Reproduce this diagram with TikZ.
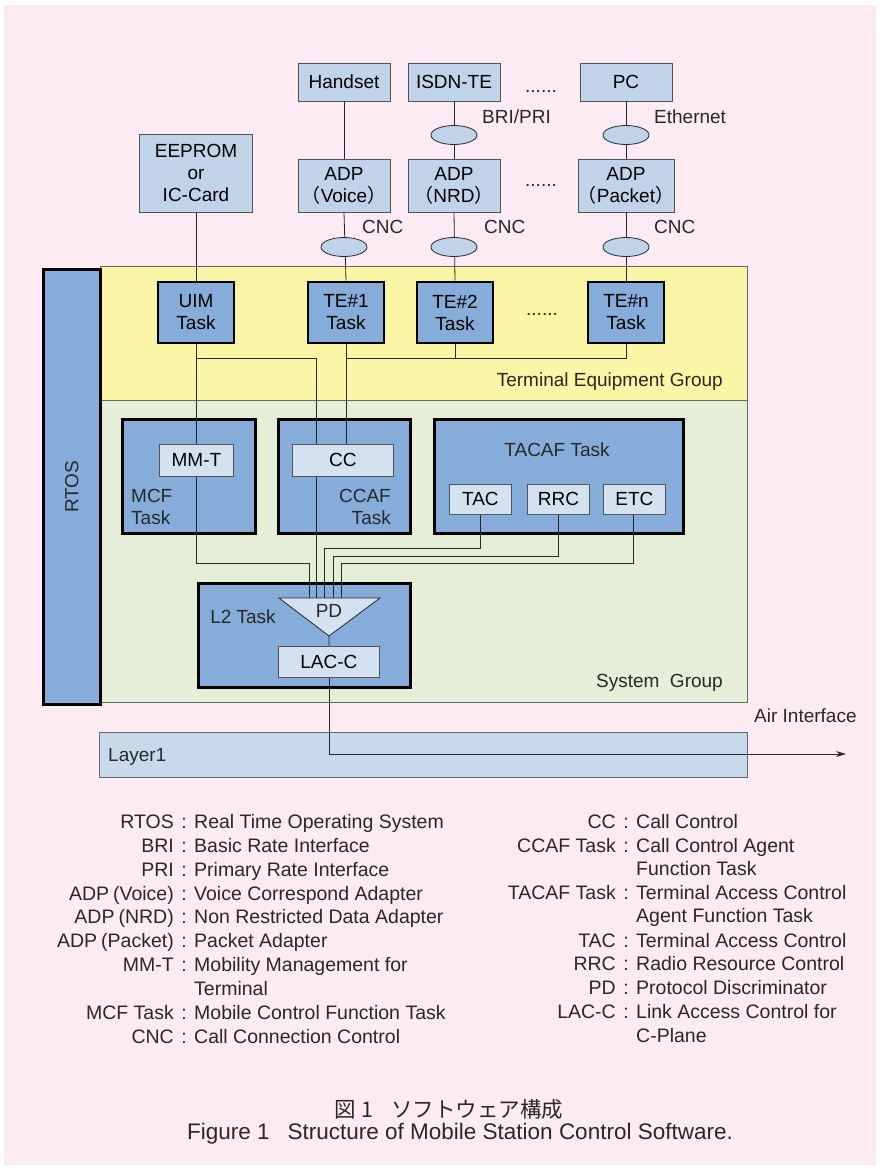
\documentclass[tikz,border=0pt]{standalone}
\usepackage{fontspec}
\setmainfont{Liberation Sans}
\newfontfamily\cjk{Noto Sans CJK JP}
\usetikzlibrary{shapes.geometric,arrows.meta}
\definecolor{bgpink}{RGB}{252,235,243}
\definecolor{topblue}{RGB}{192,211,232}
\definecolor{taskblue}{RGB}{134,172,218}
\definecolor{inblue}{RGB}{212,225,240}
\definecolor{yband}{RGB}{251,246,166}
\definecolor{gband}{RGB}{229,239,215}
\definecolor{lone}{RGB}{199,218,236}
\definecolor{ink}{RGB}{40,40,40}
\newcommand\fpo{{\cjk （}}
\newcommand\fpc{{\cjk ）}}
\newcommand\legrow[5]{%
  \node[leg,anchor=east] (#1t) at (#2-10,#3) {#4};
  \node[leg] (#1c) at (#2,#3) {:};
  \node[leg,anchor=west] (#1d) at (#2+10,#3) {#5};}
\tikzset{
  dfont/.style={font=\fontsize{19}{22}\selectfont},
  tbox/.style={dfont,draw=ink!80,line width=0.8pt,fill=topblue,minimum width=92pt,inner sep=0pt,align=center},
  task/.style={dfont,draw=black,line width=2.6pt,fill=taskblue,minimum width=76pt,minimum height=61pt,inner sep=0pt,align=center},
  bigtask/.style={draw=black,line width=2.6pt,fill=taskblue},
  ibox/.style={dfont,draw=ink!80,line width=0.8pt,fill=inblue,inner sep=0pt,align=center},
  oval/.style={ellipse,draw=ink,line width=0.8pt,fill=topblue,minimum width=46pt,minimum height=19pt,inner sep=0pt},
  lbl/.style={dfont,inner sep=0pt,text=ink},
  wire/.style={draw=ink,line width=0.8pt},
  leg/.style={font=\fontsize{19.5}{22}\selectfont,inner sep=0pt,text=ink,text height=14pt,text depth=4pt},
}
\begin{document}
\begin{tikzpicture}[x=1pt,y=-1pt]
\useasboundingbox (0,0) rectangle (880,1168);
\fill[white] (0,0) rectangle (880,1168);
\fill[bgpink] (4,5) rectangle (876,1165);

% bands
\node[draw=ink!70,line width=0.6pt,fill=yband,minimum width=647pt,minimum height=134pt,anchor=north west,inner sep=0pt] (teg) at (100,266) {};
\node[draw=ink!70,line width=0.6pt,fill=gband,minimum width=647pt,minimum height=302pt,anchor=north west,inner sep=0pt] (sg) at (100,400) {};
\node[draw=black,line width=2.6pt,fill=taskblue,minimum width=57pt,minimum height=435pt,anchor=north west,inner sep=0pt] (rtos) at (42,268) {};
\node[lbl,rotate=90] (rtost) at (rtos.center) {RTOS};
\node[lbl,anchor=east] (tegt) at (723,382) {Terminal Equipment Group};
\node[lbl,anchor=east] (sgt) at (723,683) {System\ \ Group};

% layer 1
\node[draw=ink!70,line width=0.8pt,fill=lone,minimum width=648pt,minimum height=45pt,anchor=north west,inner sep=0pt] (l1) at (99,732) {};
\node[lbl,anchor=west] (l1t) at (108,757) {Layer1};
\node[lbl,anchor=west] (air) at (754,716) {Air Interface};

% top boxes
\node[tbox,minimum height=38pt] (hs) at (344,82) {Handset};
\node[tbox,minimum height=38pt] (isdn) at (454,82) {ISDN-TE};
\node[tbox,minimum height=38pt] (pc) at (626,82) {PC};
\node[lbl] (dots1) at (541,91) {......};
\node[tbox,minimum width=113pt,minimum height=78pt] (eep) at (196,173) {EEPROM\\or\\IC-Card};
\node[tbox,minimum height=53pt] (adpv) at (344,185.5) {ADP\\\fpo Voice\fpc};
\node[tbox,minimum height=53pt] (adpn) at (454,185.5) {ADP\\\fpo NRD\fpc};
\node[tbox,minimum height=53pt] (adpp) at (626,185.5) {ADP\\\fpo Packet\fpc};
\node[lbl] (dots2) at (541,185) {......};
\node[lbl,anchor=west] (bri) at (482,117) {BRI/PRI};
\node[lbl,anchor=west] (eth) at (654,117) {Ethernet};
\node[lbl,anchor=west] (cnc1) at (362,227) {CNC};
\node[lbl,anchor=west] (cnc2) at (484,227) {CNC};
\node[lbl,anchor=west] (cnc3) at (654,227) {CNC};

% TE tasks
\node[task] (uim) at (196,312.5) {UIM\\Task};
\node[task] (te1) at (346,312.5) {TE\#1\\Task};
\node[task] (te2) at (455,312.5) {TE\#2\\Task};
\node[task] (ten) at (626,312.5) {TE\#n\\Task};
\node[lbl] (dots3) at (542,314) {......};

% system tasks
\node[bigtask,minimum width=133pt,minimum height=114pt,anchor=north west,inner sep=0pt] (mcf) at (121,418) {};
\node[bigtask,minimum width=132pt,minimum height=114pt,anchor=north west,inner sep=0pt] (ccaf) at (277,418) {};
\node[bigtask,minimum width=249pt,minimum height=114pt,anchor=north west,inner sep=0pt] (tacaf) at (433,418) {};
\node[bigtask,minimum width=212pt,minimum height=104pt,anchor=north west,inner sep=0pt] (l2) at (197,582) {};
\node[lbl,anchor=west,align=left] (mcft) at (131,507) {MCF\\Task};
\node[lbl,anchor=east,align=right] (ccaft) at (391,507) {CCAF\\Task};
\node[lbl] (tacaft) at (557,450) {TACAF Task};
\node[lbl] (l2t) at (243,617) {L2 Task};

% coordinates for wiring
\coordinate (j1) at (196,358);
\coordinate (j2) at (346,358);

% wires
\path[wire] (eep.south) -- (uim.north);
\path[wire] (hs.south) -- (adpv.north);
\path[wire] (isdn.south) -- (adpn.north);
\path[wire] (pc.south) -- (adpp.north);
\path[wire] (adpv.south) -- (te1.north);
\path[wire] (adpn.south) -- (te2.north);
\path[wire] (adpp.south) -- (ten.north);
\path[wire] (uim.south) -- (196,563) -| (309,598);
\path[wire] (j1) -| (316,598);
\path[wire] (te1.south) -- (346,445);
\path[wire] (j2) -| (ten.south);
\path[wire] (te2.south) -- (455,358);
\path[wire] (480,515) |- (324,548) -- (324,598);
\path[wire] (558,515) |- (333,556) -- (333,598);
\path[wire] (633,515) |- (341,563) -- (341,598);

% inner boxes
\node[ibox,minimum width=74pt,minimum height=32pt,anchor=north west] (mmt) at (159,444) {MM-T};
\node[ibox,minimum width=101pt,minimum height=32pt,anchor=north west] (cc) at (292,444) {CC};
\node[ibox,minimum width=62pt,minimum height=30pt,anchor=north west] (tac) at (449,484) {TAC};
\node[ibox,minimum width=62pt,minimum height=30pt,anchor=north west] (rrc) at (527,484) {RRC};
\node[ibox,minimum width=62pt,minimum height=30pt,anchor=north west] (etc) at (603,484) {ETC};
\coordinate (pdl) at (279,598);
\coordinate (pdr) at (380,598);
\coordinate (pdb) at (329,636);
\filldraw[draw=ink,line width=0.8pt,fill=inblue] (pdl) -- (pdr) -- (pdb) -- cycle;
\node[lbl] (pd) at (329,611) {PD};
\node[ibox,minimum width=101pt,minimum height=31pt,anchor=north west] (lac) at (278,646) {LAC-C};
\path[wire] (pdb) -- (lac.north);
\coordinate (airend) at (846,754);
\draw[wire,-{Stealth[length=10pt,width=6pt]}] (lac.south) |- (airend);

% ellipses
\node[oval] (e1) at (454,135) {};
\node[oval] (e2) at (626,135) {};
\node[oval] (e3) at (344,247) {};
\node[oval] (e4) at (454,247) {};
\node[oval] (e5) at (626,247) {};

% legend
\legrow{a}{184}{823}{RTOS}{Real Time Operating System}
\legrow{b}{184}{847}{BRI}{Basic Rate Interface}
\legrow{c}{184}{871}{PRI}{Primary Rate Interface}
\legrow{d}{184}{895}{ADP\hspace{4pt}(Voice)}{Voice Correspond Adapter}
\legrow{e}{184}{918}{ADP\hspace{4pt}(NRD)}{Non Restricted Data Adapter}
\legrow{f}{184}{942}{ADP\hspace{4pt}(Packet)}{Packet Adapter}
\legrow{g}{184}{966}{MM-T}{Mobility Management for}
\node[leg,anchor=west] (gd2) at (194,990) {Terminal};
\legrow{h}{184}{1014}{MCF Task}{Mobile Control Function Task}
\legrow{i}{184}{1038}{CNC}{Call Connection Control}

\legrow{k}{626}{823}{CC}{Call Control}
\legrow{m}{626}{847}{CCAF Task}{Call Control Agent}
\node[leg,anchor=west] (md2) at (636,870) {Function Task};
\legrow{n}{626}{894}{TACAF Task}{Terminal Access Control}
\node[leg,anchor=west] (nd2) at (636,917) {Agent Function Task};
\legrow{o}{626}{942}{TAC}{Terminal Access Control}
\legrow{p}{626}{965}{RRC}{Radio Resource Control}
\legrow{q}{626}{989}{PD}{Protocol Discriminator}
\legrow{r}{626}{1013}{LAC-C}{Link Access Control for}
\node[leg,anchor=west] (rd2) at (636,1037) {C-Plane};

% caption
\node[font=\fontsize{21.5}{24}\selectfont\cjk,text=ink,inner sep=0pt] (jcap) at (449,1109) {図\hspace{5pt}1\hspace{18pt}ソフトウェア構成};
\node[font=\fontsize{22.5}{24}\selectfont,text=ink,inner sep=0pt] (ecap) at (460,1134) {Figure 1\hspace{18pt}Structure of Mobile Station Control Software.};
\end{tikzpicture}
\end{document}
